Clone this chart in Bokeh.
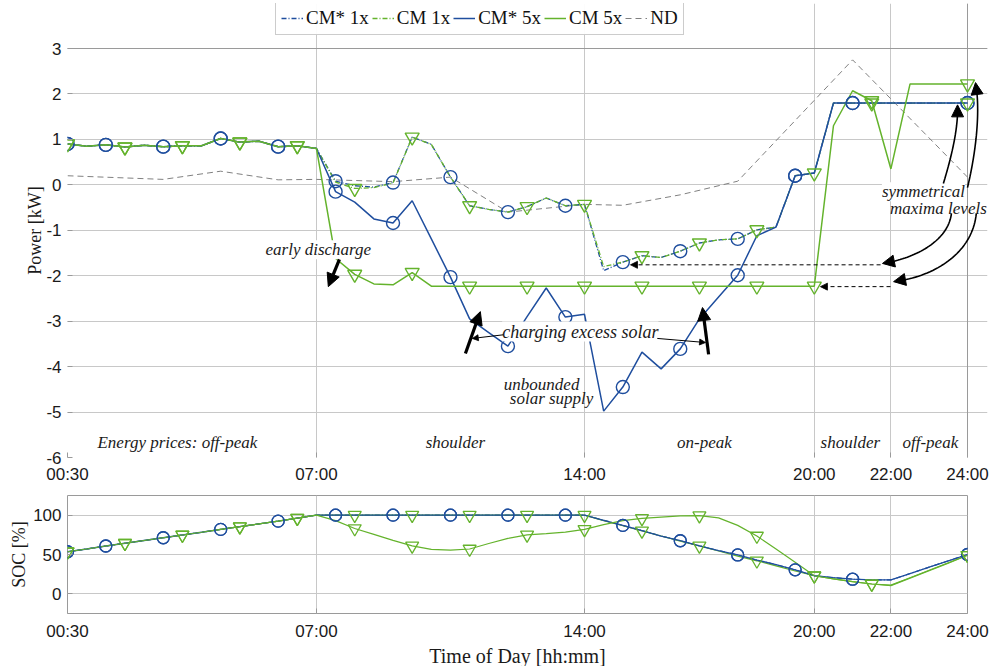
import numpy as np
from bokeh.plotting import figure
from bokeh.models import (Range1d, FixedTicker, Legend, LegendItem, Label, Arrow,
                          NormalHead, PolyAnnotation, Grid)
from bokeh.layouts import column
from bokeh.embed import file_html
from bokeh.resources import INLINE

# ---------------- data ----------------
hours = [0.5, 1.0, 1.5, 2.0, 2.5, 3.0, 3.5, 4.0, 4.5, 5.0, 5.5, 6.0,
         6.5, 7.0, 7.5, 8.0, 8.5, 9.0, 9.5, 10.0, 10.5, 11.0, 11.5, 12.0,
         12.5, 13.0, 13.5, 14.0, 14.5, 15.0, 15.5, 16.0, 16.5, 17.0, 17.5, 18.0,
         18.5, 19.0, 19.5, 20.0, 20.5, 21.0, 21.5, 22.0, 22.5, 23.0, 23.5, 24.0]

# Power [kW]
p_cms_1x = [0.90, 0.85, 0.88, 0.83, 0.87, 0.84, 0.86, 0.86, 1.02, 0.94, 0.96, 0.84,
            0.86, 0.80, 0.08, -0.02, -0.05, 0.05, 1.05, 0.89, 0.17, -0.46, -0.54, -0.60,
            -0.48, -0.29, -0.46, -0.43, -1.89, -1.70, -1.56, -1.60, -1.46, -1.28, -1.21, -1.19,
            -0.99, -0.93, 0.20, 0.26, 1.80, 1.80, 1.80, 1.80, 1.80, 1.80, 1.80, 1.80]
p_cm_1x = [0.90, 0.85, 0.88, 0.83, 0.87, 0.84, 0.86, 0.86, 1.02, 0.94, 0.96, 0.84,
           0.86, 0.80, 0.06, -0.08, -0.06, 0.04, 1.05, 0.89, 0.17, -0.46, -0.54, -0.60,
           -0.48, -0.29, -0.46, -0.43, -1.80, -1.70, -1.56, -1.60, -1.46, -1.28, -1.21, -1.19,
           -0.99, -0.93, 0.20, 0.26, 1.80, 1.80, 1.80, 1.80, 1.80, 1.80, 1.80, 1.80]
p_cms_5x = [0.90, 0.85, 0.88, 0.83, 0.87, 0.84, 0.86, 0.86, 1.02, 0.94, 0.96, 0.84,
            0.86, 0.80, -0.15, -0.38, -0.75, -0.84, -0.35, -1.19, -2.03, -2.95, -3.25, -3.55,
            -2.90, -2.27, -2.91, -2.85, -4.98, -4.45, -3.68, -4.05, -3.61, -2.95, -2.47, -1.99,
            -1.12, -0.93, 0.20, 0.26, 1.80, 1.80, 1.80, 1.80, 1.80, 1.80, 1.80, 1.80]
p_cm_5x = [0.90, 0.85, 0.88, 0.83, 0.87, 0.84, 0.86, 0.86, 1.02, 0.94, 0.96, 0.84,
           0.86, 0.80, -1.62, -1.97, -2.18, -2.20, -1.93, -2.23, -2.23, -2.23, -2.23, -2.23,
           -2.23, -2.23, -2.23, -2.23, -2.23, -2.23, -2.23, -2.23, -2.23, -2.23, -2.23, -2.23,
           -2.23, -2.23, -2.23, -2.23, 1.30, 2.07, 1.85, 0.35, 2.22, 2.22, 2.22, 2.22]
nd_hours = [0.5, 3.0, 4.5, 6.0, 7.0, 9.0, 10.5, 12.0, 14.0, 15.0, 16.5, 18.0, 21.0, 24.0]
nd_power = [0.20, 0.12, 0.30, 0.11, 0.12, 0.07, 0.17, -0.60, -0.43, -0.45, -0.22, 0.08, 2.75, 0.17]

# SOC [%]
soc_cms_5x = [53.5, 57.0, 60.8, 64.3, 67.8, 71.3, 74.8, 78.3, 81.9, 85.4, 88.9, 92.4,
              96.2, 100.0, 100.0, 100.0, 100.0, 100.0, 100.0, 100.0, 100.0, 100.0, 100.0, 100.0,
              100.0, 100.0, 100.0, 100.0, 93.5, 87.0, 80.5, 73.5, 67.5, 61.0, 55.0, 49.4,
              43.0, 37.0, 30.5, 23.0, 20.5, 18.6, 17.8, 17.7, 25.8, 33.9, 42.0, 50.0]
soc_cms_1x = list(soc_cms_5x)
soc_cm_1x = [53.5, 57.0, 60.8, 64.3, 67.8, 71.3, 74.8, 78.3, 81.9, 85.4, 88.9, 92.4,
             96.2, 100.0, 100.0, 100.0, 100.0, 100.0, 100.0, 100.0, 100.0, 100.0, 100.0, 100.0,
             100.0, 100.0, 100.0, 100.0, 93.0, 86.5, 80.0, 73.5, 67.0, 61.0, 54.5, 48.0,
             42.0, 35.5, 29.0, 23.0, 19.0, 15.5, 12.5, 11.0, 20.5, 30.0, 39.5, 49.0]
soc_cm_5x = [53.5, 57.0, 60.8, 64.3, 67.8, 71.3, 74.8, 78.3, 81.9, 85.4, 88.9, 92.4,
             96.2, 100.0, 93.0, 83.0, 75.5, 68.0, 61.0, 56.5, 55.5, 57.0, 64.0, 70.5,
             75.0, 76.5, 78.5, 82.0, 88.0, 93.0, 96.0, 97.5, 99.0, 99.5, 96.5, 87.0,
             73.5, 57.0, 40.0, 23.0, 19.0, 15.5, 12.5, 10.5, 20.0, 29.5, 39.0, 49.0]

circle_idx = [0, 2, 5, 8, 11, 14, 17, 20, 23, 26, 29, 32, 35, 38, 41, 47]
tri_idx = [0, 3, 6, 9, 12, 15, 18, 21, 24, 27, 30, 33, 36, 39, 42, 47]

time_ticks = [0.5, 7, 14, 20, 22, 24]
time_labels = ["00:30", "07:00", "14:00", "20:00", "22:00", "24:00"]
power_ticks = [-6, -5, -4, -3, -2, -1, 0, 1, 2, 3]
soc_ticks = [0, 50, 100]

price_labels = ["Energy prices: off-peak", "shoulder", "on-peak", "shoulder", "off-peak"]
price_pos = [3.37, 10.63, 17.13, 20.94, 23.03]

# ---------------- style ----------------
BLUE = "#1f4e9e"
GREEN = "#64b32c"
GRAY = "#808080"
SERIF = "Liberation Serif"
SANS = "Liberation Sans"
GRID = "#c8c8c8"
FRAME = "#9a9a9a"
X0, X1 = 0.5, 24.0
PX_PER_H = 900 / 23.5
PX_PER_KW = 409 / 9.0


def style_axes(p, yticks):
    p.xaxis.ticker = FixedTicker(ticks=time_ticks)
    p.xaxis.major_label_overrides = {t: l for t, l in zip(time_ticks, time_labels)}
    p.yaxis.ticker = FixedTicker(ticks=yticks)
    p.yaxis.major_label_overrides = {t: str(t) for t in yticks}
    p.xgrid.ticker = FixedTicker(ticks=time_ticks)
    p.ygrid.ticker = FixedTicker(ticks=yticks)
    for ax in (p.xaxis, p.yaxis):
        ax.axis_line_color = None
        ax.major_tick_line_color = FRAME
        ax.major_tick_in = 5
        ax.major_tick_out = 0
        ax.minor_tick_line_color = None
        ax.major_label_text_font = SANS
        ax.major_label_text_font_size = "17px"
        ax.major_label_text_color = "#1a1a1a"
        ax.axis_label_text_font = SERIF
        ax.axis_label_text_font_style = "normal"
        ax.axis_label_text_font_size = "18px"
        ax.axis_label_text_color = "#1a1a1a"
    p.yaxis.major_label_standoff = 6
    p.xgrid.grid_line_color = GRID
    p.ygrid.grid_line_color = GRID


# ---------------- top figure ----------------
# frame extends right of / above the axes box so that annotations and legend are not clipped
x_end_top = X1 + 20 / PX_PER_H
y_top_top = 3 + 45 / PX_PER_KW
top = figure(frame_width=920, frame_height=454, x_range=Range1d(X0, x_end_top),
             y_range=Range1d(-6, y_top_top), output_backend="svg", toolbar_location=None,
             min_border_left=67, min_border_right=4, min_border_top=3,
             min_border_bottom=30)
style_axes(top, power_ticks)
top.outline_line_color = None
top.xgrid.bounds = (-6, 3)
top.ygrid.bounds = (X0, X1)
top.add_layout(Grid(dimension=0, ticker=FixedTicker(ticks=[X0, X1]), bounds=(-6, 3),
                    grid_line_color=FRAME))
top.add_layout(Grid(dimension=1, ticker=FixedTicker(ticks=[-6, 3]), bounds=(X0, X1),
                    grid_line_color=FRAME))
top.yaxis.axis_label = "Power [kW]"
top.yaxis.axis_label_standoff = -2
top.xaxis.major_label_standoff = 7

r_nd = top.line(nd_hours, nd_power, color=GRAY, line_width=1, line_dash="6 4")
r1 = top.line(hours, p_cms_1x, color=BLUE, line_width=1.3, line_dash="5 2 1 2")
r2 = top.line(hours, p_cm_1x, color=GREEN, line_width=1.3, line_dash="5 2 1 2")
r3 = top.line(hours, p_cms_5x, color=BLUE, line_width=1.5)
r4 = top.line(hours, p_cm_5x, color=GREEN, line_width=1.5)

for ser in (p_cms_1x, p_cms_5x):
    top.scatter([hours[i] for i in circle_idx], [ser[i] for i in circle_idx],
                marker="circle", size=13, fill_color=None, line_color=BLUE, line_width=1.4)
for ser in (p_cm_1x, p_cm_5x):
    top.scatter([hours[i] for i in tri_idx], [ser[i] for i in tri_idx],
                marker="inverted_triangle", size=14, fill_color=None, line_color=GREEN,
                line_width=1.4)

legend = Legend(items=[LegendItem(label="CM* 1x", renderers=[r1]),
                       LegendItem(label="CM 1x", renderers=[r2]),
                       LegendItem(label="CM* 5x", renderers=[r3]),
                       LegendItem(label="CM 5x", renderers=[r4]),
                       LegendItem(label="ND", renderers=[r_nd])],
                orientation="horizontal", location=(208, 422))
legend.label_text_font = SERIF
legend.label_text_font_size = "19px"
legend.label_text_color = "#111111"
legend.glyph_width = 22
legend.glyph_height = 20
legend.label_standoff = 3
legend.spacing = 3
legend.padding = 5
legend.margin = 0
legend.border_line_color = FRAME
legend.label_height = 20
top.add_layout(legend)


def lab(p, x, y, text, size="17px", bg=False):
    kw = dict(x=x, y=y, text=text, text_font=SERIF, text_font_style="italic",
              text_font_size=size, text_align="center", text_baseline="middle",
              text_color="#1a1a1a")
    if bg:
        kw.update(background_fill_color="white", background_fill_alpha=1.0)
    p.add_layout(Label(**kw))


for t, xp in zip(price_labels, price_pos):
    lab(top, xp, -5.67, t)

lab(top, 7.05, -1.43, "early discharge", bg=True)
lab(top, 13.89, -3.23, "charging excess solar", size="18px", bg=True)
lab(top, 12.88, -4.40, "unbounded")
lab(top, 13.14, -4.70, "solar supply")
lab(top, 22.85, -0.15, "symmetrical", bg=True)
lab(top, 23.24, -0.52, "maxima levels")


def thick_arrow(p, x0, y0, x1, y1):
    p.add_layout(Arrow(end=NormalHead(size=13, fill_color="black", line_color="black"),
                       x_start=x0, y_start=y0, x_end=x1, y_end=y1,
                       line_width=3.2, line_color="black"))


def thin_arrow(p, x0, y0, x1, y1, dash="solid", size=6):
    p.add_layout(Arrow(end=NormalHead(size=size, fill_color="black", line_color="black",
                                      line_width=0.8),
                       x_start=x0, y_start=y0, x_end=x1, y_end=y1,
                       line_width=1, line_color="black", line_dash=dash))


thick_arrow(top, 7.60, -1.64, 7.31, -2.24)
thick_arrow(top, 10.89, -3.71, 11.28, -2.79)
thick_arrow(top, 17.24, -3.73, 17.08, -2.70)
thin_arrow(top, 11.88, -3.30, 11.07, -3.38)
thin_arrow(top, 15.90, -3.38, 17.16, -3.47)
thin_arrow(top, 21.73, -1.76, 15.20, -1.76, dash="4 3", size=7)
thin_arrow(top, 21.99, -2.24, 20.16, -2.24, dash="4 3", size=7)


def curved_arrow(p, p0, c0, c1, p1):
    t = np.linspace(0, 1, 40)
    bx = ((1 - t) ** 3 * p0[0] + 3 * (1 - t) ** 2 * t * c0[0]
          + 3 * (1 - t) * t ** 2 * c1[0] + t ** 3 * p1[0])
    by = ((1 - t) ** 3 * p0[1] + 3 * (1 - t) ** 2 * t * c0[1]
          + 3 * (1 - t) * t ** 2 * c1[1] + t ** 3 * p1[1])
    xs = list(bx[:-3]) + list(bx[:-3][::-1])
    ys = list(by[:-3]) + list(by[:-3][::-1])
    p.add_layout(PolyAnnotation(xs=xs, ys=ys, fill_alpha=0, line_color="black",
                                line_alpha=1.0, line_width=1.6))
    p.add_layout(Arrow(end=NormalHead(size=12, fill_color="black", line_color="black"),
                       x_start=float(bx[-6]), y_start=float(by[-6]),
                       x_end=float(bx[-1]), y_end=float(by[-1]),
                       line_alpha=0))


curved_arrow(top, (23.37, 0.03), (23.63, 0.75), (23.76, 1.31), (23.74, 1.76))
curved_arrow(top, (24.0, -0.06), (24.23, 0.75), (24.34, 1.64), (24.21, 2.25))
curved_arrow(top, (23.58, -0.63), (23.50, -1.23), (22.64, -1.62), (21.78, -1.73))
curved_arrow(top, (24.23, -0.63), (24.13, -1.49), (23.16, -2.02), (22.07, -2.13))

# ---------------- bottom figure ----------------
bot = figure(frame_width=900, frame_height=118, x_range=Range1d(X0, X1),
             y_range=Range1d(-25, 125), output_backend="svg", toolbar_location=None,
             min_border_left=67, min_border_right=24, min_border_top=8,
             min_border_bottom=40)
style_axes(bot, soc_ticks)
bot.outline_line_color = FRAME
bot.yaxis.axis_label = "SOC [%]"
bot.yaxis.axis_label_standoff = 1
bot.xaxis.axis_label = "Time of Day [hh:mm]"
bot.xaxis.axis_label_text_font_size = "20px"
bot.xaxis.axis_label_standoff = 1
bot.xaxis.major_label_standoff = 8

bot.line(hours, soc_cms_1x, color=BLUE, line_width=1.2, line_dash="5 2 1 2")
bot.line(hours, soc_cm_1x, color=GREEN, line_width=1.2)
bot.line(hours, soc_cms_5x, color=BLUE, line_width=1.3)
bot.line(hours, soc_cm_5x, color=GREEN, line_width=1.2)
for ser in (soc_cms_1x, soc_cms_5x):
    bot.scatter([hours[i] for i in circle_idx], [ser[i] for i in circle_idx],
                marker="circle", size=12, fill_color=None, line_color=BLUE, line_width=1.3)
for ser in (soc_cm_1x, soc_cm_5x):
    bot.scatter([hours[i] for i in tri_idx], [ser[i] for i in tri_idx],
                marker="inverted_triangle", size=13, fill_color=None, line_color=GREEN,
                line_width=1.3)

layout = column(top, bot, spacing=0)
open("out.html", "w").write(file_html(layout, INLINE))
